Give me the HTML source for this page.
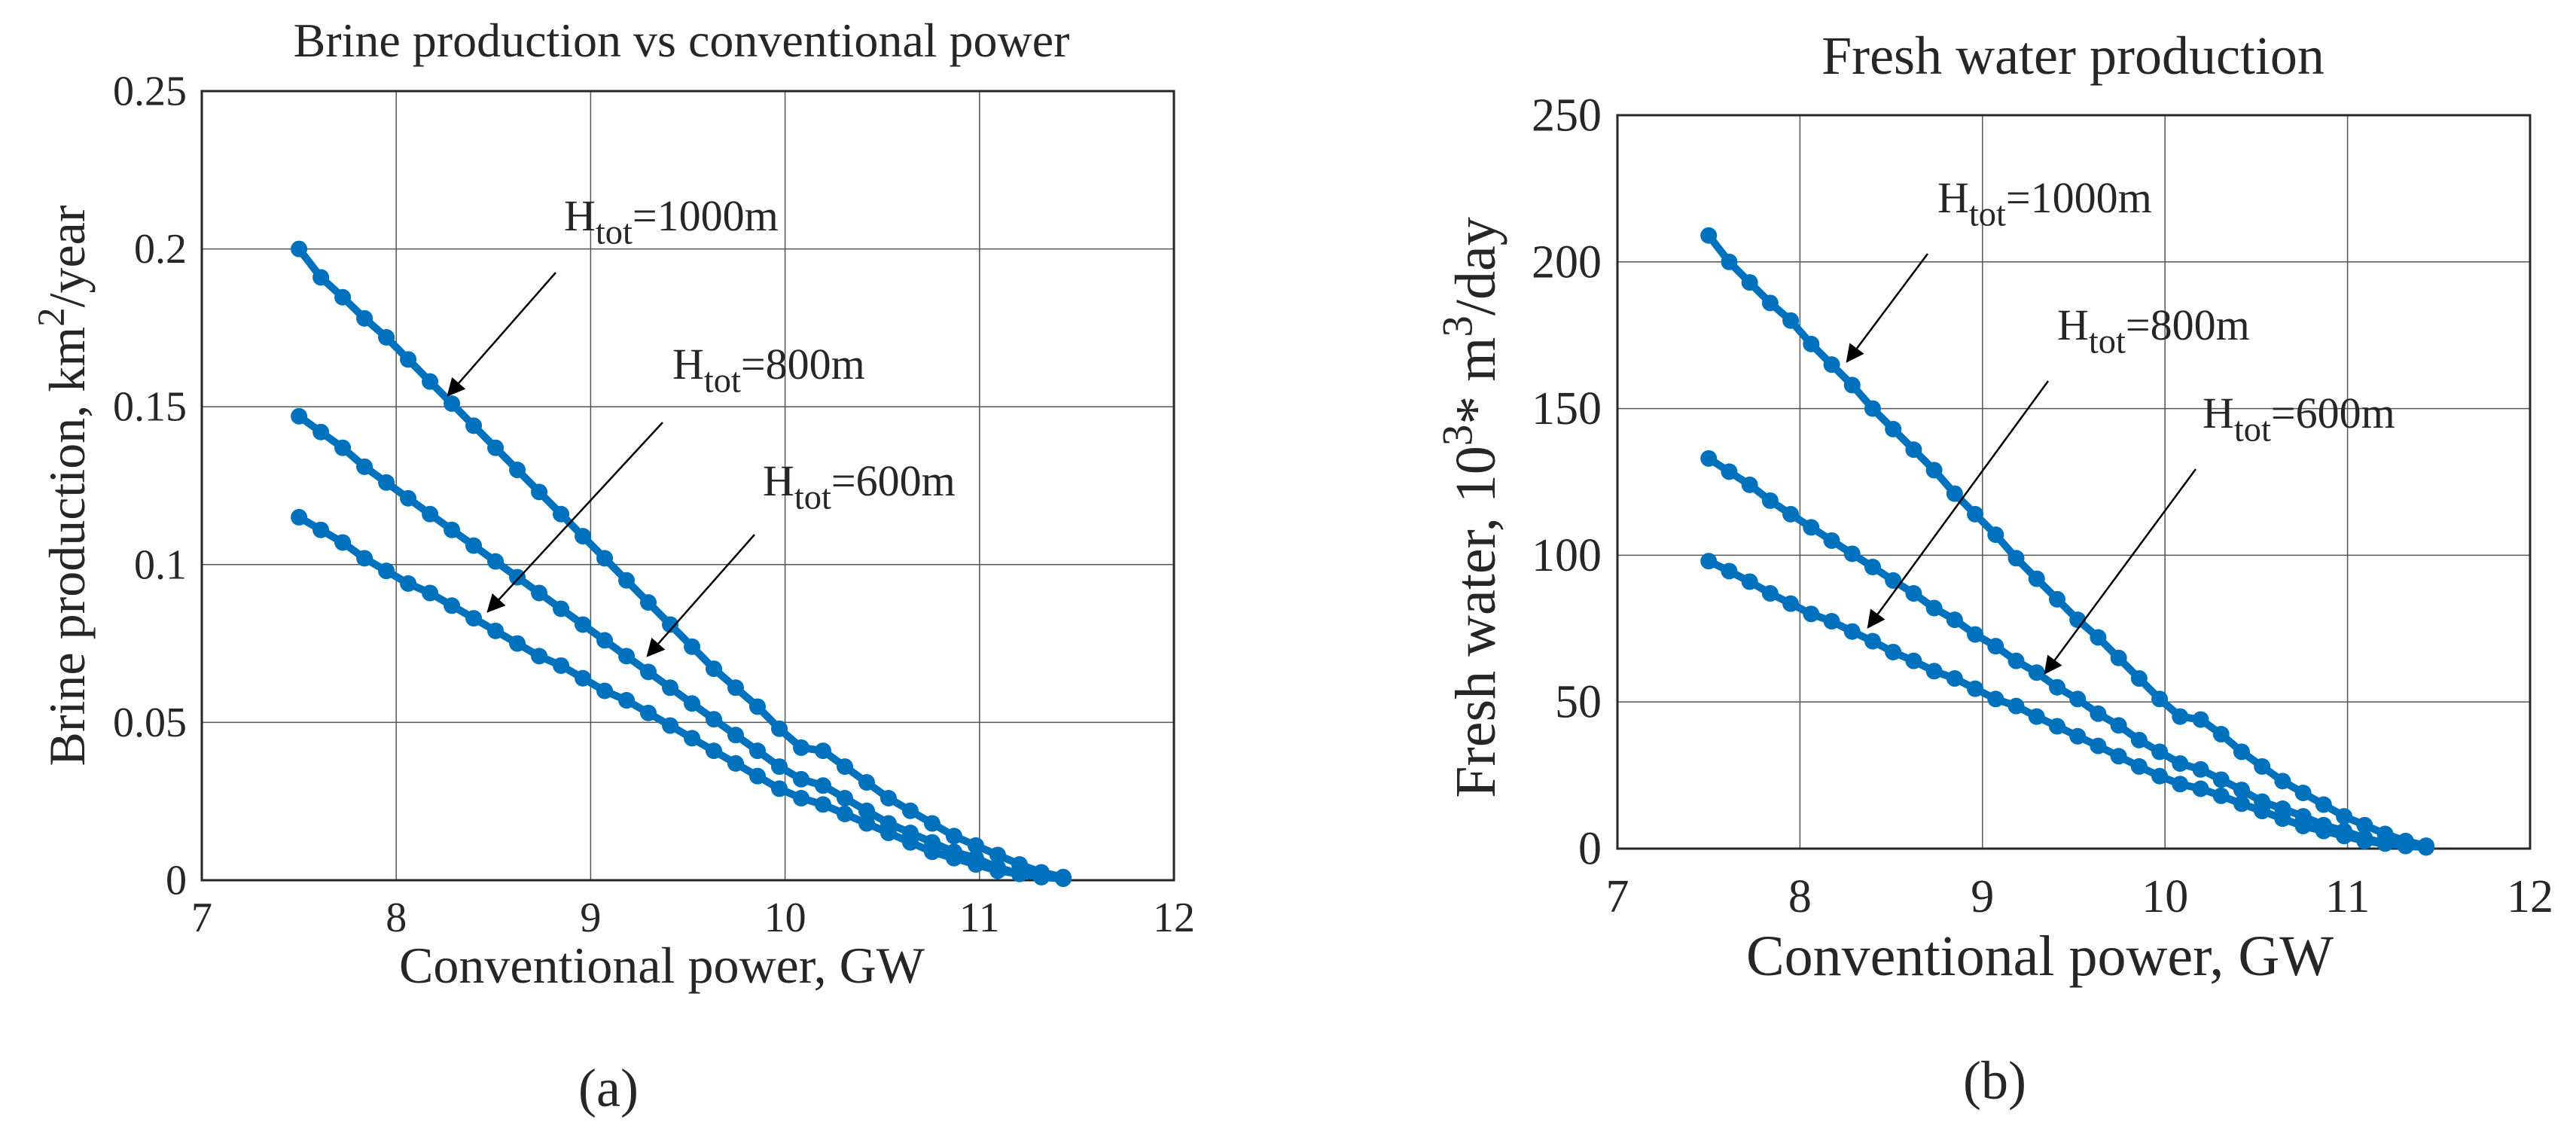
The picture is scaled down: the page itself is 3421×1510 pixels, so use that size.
<!DOCTYPE html>
<html><head><meta charset="utf-8"><style>
html,body{margin:0;padding:0;background:#fff}
svg{display:block}
svg text{font-family:"Liberation Serif",serif;fill:#262626}
</style></head><body>
<svg id="fig" width="3421" height="1510" viewBox="0 0 3421 1510" xmlns="http://www.w3.org/2000/svg" font-family="Liberation Serif, serif"></svg>
<script>
const xTicks = [7, 8, 9, 10, 11, 12];
const xStart = 7.5;
const xStep = 0.1123;
const brineTicks = [0, 0.05, 0.1, 0.15, 0.2, 0.25];
const brineTickLabels = ["0", "0.05", "0.1", "0.15", "0.2", "0.25"];
const brine1000 = [.2,.191,.1847,.178,.172,.165,.158,.151,.144,.137,.130,.123,.116,.109,.102,.095,.088,.081,.074,.067,.061,.055,.048,.042,.041,.036,.031,.026,.022,.018,.014,.011,.008,.005,.0025,.001];
const brine800 = [.147,.142,.137,.131,.126,.121,.116,.111,.106,.101,.096,.091,.086,.081,.076,.071,.066,.061,.056,.051,.046,.041,.036,.032,.030,.026,.022,.018,.015,.012,.009,.007,.004,.002,.001,.0005];
const brine600 = [.115,.111,.107,.102,.098,.094,.091,.087,.083,.079,.075,.071,.068,.064,.060,.057,.053,.049,.045,.041,.037,.033,.029,.026,.024,.021,.018,.015,.012,.009,.007,.005,.003,.002,.001,.0005];
const waterTicks = [0, 50, 100, 150, 200, 250];
const waterTickLabels = ["0", "50", "100", "150", "200", "250"];
const water1000 = [209,200,193,186,180,172,165,158,150,143,136,129,121,114,107,99,92,85,78,72,65,58,51,45,44,39,33,28,23,19,15,11,8,5,2.6,1];
const water800 = [133,128.5,124,118.6,114,109.5,105,100.5,96,91.4,87,82,78,73,69,64,60,55,51,46,42,37,33,29,27,23.5,20,16,13.6,11,8,6,3.6,1.8,0.9,0.5];
const water600 = [98,94.6,91,87,83.5,80,77.5,74,70.7,67,64,60.5,58,54.5,51,48.6,45,41.7,38.3,35,31.5,28,24.7,22,20.4,18,15.3,12.8,10.2,7.7,6,4.3,2.6,1.7,0.9,0.4];

const NS = "http://www.w3.org/2000/svg";
const svg = document.getElementById('fig');
const FF = '"Liberation Serif", serif';
function mk(tag, attrs, parent){const e=document.createElementNS(NS,tag);for(const k in attrs)e.setAttribute(k,attrs[k]);if(tag==='text')e.style.fontFamily=FF;(parent||svg).appendChild(e);return e;}
const defs = mk('defs',{});
const mkr = mk('marker',{id:'ah',viewBox:'0 0 10 10',markerWidth:'34',markerHeight:'24',refX:'9',refY:'5',orient:'auto',markerUnits:'userSpaceOnUse'},defs);
mk('path',{d:'M0,0 L10,5 L0,10 Z',fill:'#000'},mkr);

function chart(o){
  const g = mk('g',{});
  
  
  const xs = v => o.x0 + (v - 7) / 5 * (o.x1 - o.x0);
  const ys = v => o.y1 - v / o.ymax * (o.y1 - o.y0);
  xTicks.forEach((t,i)=>{
    if(i>0 && i<xTicks.length-1){
      const l=mk('line',{x1:xs(t),x2:xs(t),y1:o.y0,y2:o.y1,stroke:'#555','stroke-width':1.5},g);
      
      
    }
    const tx=mk('text',{x:xs(t),y:o.xtY,'font-size':o.tf,'text-anchor':'middle'},g);
    tx.textContent=String(t);
    
    
  });
  o.yt.forEach((t,i)=>{
    if(i>0 && i<o.yt.length-1){
      const l=mk('line',{x1:o.x0,x2:o.x1,y1:ys(t),y2:ys(t),stroke:'#555','stroke-width':1.5},g);
      
      
    }
    const tx=mk('text',{x:o.ytX,y:ys(t)+o.tf*0.33,'font-size':o.tf,'text-anchor':'end'},g);
    tx.textContent=o.ytl[i];
    
    
  });
  const fr=mk('rect',{x:o.x0,y:o.y0,width:o.x1-o.x0,height:o.y1-o.y0,fill:'none',stroke:'#262626','stroke-width':3},g);
  
  
  o.series.forEach((s,si)=>{
    const pts=s.map((v,i)=>xs(xStart+i*xStep).toFixed(1)+','+ys(v).toFixed(1)).join(' ');
    const pl=mk('polyline',{points:pts,fill:'none',stroke:'#0072BD','stroke-width':10,'stroke-linejoin':'round'},g);
    
    
    s.forEach((v,i)=>{
      const c=mk('circle',{cx:xs(xStart+i*xStep),cy:ys(v),r:11,fill:'#0072BD'},g);
      
      
    });
  });
  o.ann.forEach((a,i)=>{
    const t=mk('text',{x:a.tx,y:a.ty,'font-size':o.af},g);
    
    
    const t1=mk('tspan',{},t);t1.textContent='H';
    const t2=mk('tspan',{dy:o.af*0.3,'font-size':o.af*0.8},t);t2.textContent='tot';
    const t3=mk('tspan',{dy:-o.af*0.3},t);t3.textContent='='+o.labels[i];
    const l=mk('line',{x1:a.ax1,y1:a.ay1,x2:a.ax2,y2:a.ay2,stroke:'#000','stroke-width':2.5,'marker-end':'url(#ah)'},g);
    
    
  });
  const ti=mk('text',{x:o.titleX,y:o.titleY,'font-size':o.titleF,'text-anchor':'middle'},g);
  ti.textContent=o.title;
  
  
  const xl=mk('text',{x:o.xlX,y:o.xlY,'font-size':o.lf,'text-anchor':'middle'},g);
  xl.textContent='Conventional power, GW';
  
  
  const yl=mk('text',{x:0,y:0,'font-size':o.lf,'text-anchor':'middle',transform:`translate(${o.ylX},${o.ylY}) rotate(-90)`},g);
  
  
  o.ylParts.forEach(p=>{const s=mk('tspan',p.sup?{dy:-o.lf*0.4,'font-size':o.lf*0.75}:(p.down?{dy:o.lf*0.4}:{}),yl);s.textContent=p.t;});
  const cap=mk('text',{x:o.capX,y:o.capY,'font-size':72,'text-anchor':'middle'},g);
  cap.textContent=o.cap;
  
  
}

chart({name:'brine-chart',x0:268,x1:1559,y0:121,y1:1169,ymax:0.25,yt:brineTicks,ytl:brineTickLabels,
  series:[brine1000,brine800,brine600],labels:['1000m','800m','600m'],tf:56,af:58,xtY:1237,ytX:248,
  ann:[{tx:749,ty:306,ax1:738,ay1:362,ax2:595,ay2:525},{tx:893,ty:503,ax1:880,ay1:561,ax2:648,ay2:812},{tx:1013,ty:658,ax1:1002,ay1:710,ax2:860,ay2:871}],
  title:'Brine production vs conventional power',titleX:905,titleY:75,titleF:64,
  xlX:879,xlY:1305,lf:68,ylX:112,ylY:645,
  ylParts:[{t:'Brine production, km'},{t:'2',sup:true},{t:'/year',down:true}],cap:'(a)',capX:808,capY:1469});
chart({name:'fresh-water-chart',x0:2148,x1:3360,y0:153,y1:1127,ymax:250,yt:waterTicks,ytl:waterTickLabels,
  series:[water1000,water800,water600],labels:['1000m','800m','600m'],tf:62,af:58,xtY:1211,ytX:2127,
  ann:[{tx:2573,ty:282,ax1:2560,ay1:337,ax2:2453,ay2:480},{tx:2732,ty:451,ax1:2720,ay1:506,ax2:2481,ay2:833},{tx:2925,ty:568,ax1:2916,ay1:623,ax2:2716,ay2:894}],
  title:'Fresh water production',titleX:2753,titleY:98,titleF:72,
  xlX:2709,xlY:1295,lf:76,ylX:1985,ylY:674,
  ylParts:[{t:'Fresh water, 10'},{t:'3',sup:true},{t:'* m',down:true},{t:'3',sup:true},{t:'/day',down:true}],cap:'(b)',capX:2649,capY:1459});
</script>
</body></html>
